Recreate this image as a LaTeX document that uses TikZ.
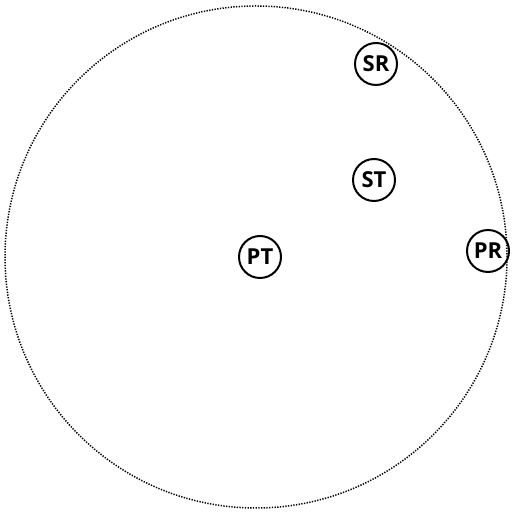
\documentclass[tikz,border=0pt]{standalone}
\usepackage{fontspec}
\setmainfont{Open Sans}
\begin{document}
\begin{tikzpicture}[x=1pt,y=1pt,
  nd/.style={circle,draw,line width=2pt,minimum size=42pt,inner sep=0pt,font=\fontsize{22}{22}\selectfont\bfseries}]
\useasboundingbox (0,0) rectangle (511,513);
\draw[line width=1.5pt,dash pattern=on 1.3pt off 1.4pt] (256,256) circle (251);
\node[nd] (SR) at (376,449) {SR};
\node[nd] (ST) at (374,333) {ST};
\node[nd] (PT) at (260,256) {PT};
\node[nd] (PR) at (488,262) {PR};
\end{tikzpicture}
\end{document}
